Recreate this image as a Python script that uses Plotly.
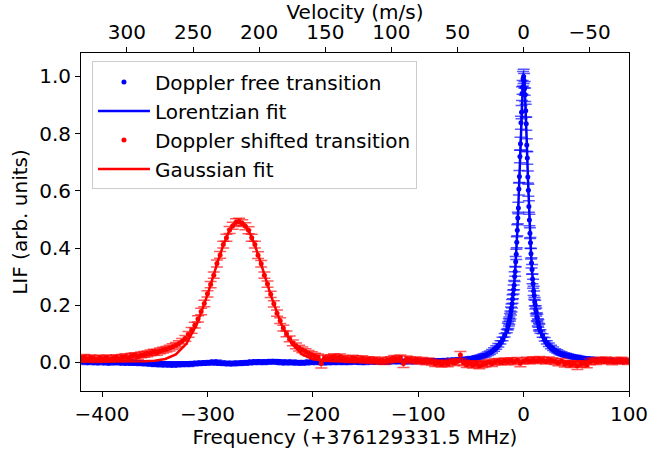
import plotly.graph_objects as go

# ---------------- data ----------------
F0_MHZ = 376129331.5          # frequency offset of the x axis (MHz)
C_LIGHT = 299792458.0         # m/s, used for the Velocity axis conversion

# Doppler free transition (blue), three scan segments
blue_left_start, blue_left_step = -420, 2      # -420 ... -16
blue_left_vals = [
    0.003, 0.001, 0.004, -0.001, 0.002, 0.005, 0.000, 0.003, -0.002, 0.002,   # -420
    0.004, 0.000, 0.002, -0.003, 0.001, 0.003, -0.001, 0.002, 0.000, -0.002,  # -400
    0.001, -0.003, 0.000, -0.002, 0.002, -0.004, -0.001, -0.003, 0.000, -0.005,  # -380
    -0.002, -0.004, -0.006, -0.003, -0.007, -0.005, -0.008, -0.006, -0.004, -0.009,  # -360
    -0.006, -0.008, -0.005, -0.010, -0.007, -0.009, -0.006, -0.008, -0.004, -0.007,  # -340
    -0.005, -0.008, -0.004, -0.006, -0.003, -0.005, -0.002, -0.004, -0.001, -0.003,  # -320
    0.000, -0.002, 0.001, -0.001, 0.002, -0.003, -0.001, -0.004, -0.002, -0.005,  # -300
    -0.003, -0.006, -0.004, -0.002, -0.005, -0.003, -0.001, -0.004, 0.000, -0.002,  # -280
    0.001, -0.001, 0.002, 0.000, 0.003, 0.001, -0.001, 0.002, 0.000, 0.003,   # -260
    0.001, 0.004, 0.002, 0.000, 0.003, 0.001, -0.002, 0.001, -0.001, 0.002,   # -240
    0.000, -0.002, 0.001, -0.001, -0.003, 0.000, -0.002, 0.001, -0.001, 0.002,  # -220
    0.000, 0.003, 0.001, -0.001, 0.002, 0.000, -0.002, 0.001, 0.003, 0.000,   # -200
    0.002, -0.001, 0.001, 0.003, 0.000, 0.002, -0.001, 0.001, 0.003, 0.001,   # -180
    0.002, 0.000, 0.003, 0.001, -0.001, 0.002, 0.004, 0.001, 0.003, 0.000,    # -160
    0.002, 0.004, 0.001, 0.003, 0.000, 0.002, 0.004, 0.001, 0.003, 0.005,     # -140
    0.002, 0.004, 0.001, 0.003, 0.005, 0.002, 0.004, 0.001, 0.003, 0.005,     # -120
    0.003, 0.005, 0.002, 0.004, 0.006, 0.003, 0.005, 0.007, 0.004, 0.006,     # -100
    0.005, 0.007, 0.004, 0.006, 0.008, 0.006, 0.008, 0.007, 0.009, 0.008,     # -80
    0.010, 0.009, 0.011, 0.012, 0.011, 0.013, 0.015, 0.014, 0.017, 0.019,     # -60
    0.021, 0.024, 0.026, 0.030, 0.034, 0.039, 0.045, 0.052, 0.060, 0.070,     # -40
    0.082, 0.095, 0.110,                                                      # -20
]
blue_peak_start, blue_peak_step = -15, 0.5     # -15 ... 15
blue_peak_vals = [
    0.125, 0.131, 0.140, 0.146, 0.158, 0.166, 0.180, 0.190, 0.205, 0.222,
    0.238, 0.255, 0.270, 0.300, 0.318, 0.352, 0.378, 0.420, 0.462, 0.505,
    0.540, 0.606, 0.650, 0.720, 0.765, 0.838, 0.875, 0.940, 0.962, 0.992,
    1.000,
    0.985, 0.958, 0.936, 0.880, 0.835, 0.760, 0.715, 0.648, 0.602, 0.545,
    0.498, 0.452, 0.418, 0.380, 0.348, 0.325, 0.292, 0.275, 0.250, 0.235,
    0.212, 0.202, 0.184, 0.176, 0.160, 0.155, 0.140, 0.136, 0.125, 0.121,
]
blue_peak_err = [
    0.012, 0.012, 0.013, 0.013, 0.013, 0.014, 0.014, 0.014, 0.015, 0.015,
    0.015, 0.016, 0.016, 0.017, 0.017, 0.018, 0.018, 0.019, 0.019, 0.020,
    0.020, 0.021, 0.021, 0.022, 0.022, 0.023, 0.023, 0.024, 0.024, 0.025,
    0.025,
    0.025, 0.024, 0.024, 0.023, 0.023, 0.022, 0.022, 0.021, 0.021, 0.020,
    0.020, 0.019, 0.019, 0.018, 0.018, 0.017, 0.017, 0.016, 0.016, 0.015,
    0.015, 0.015, 0.014, 0.014, 0.014, 0.013, 0.013, 0.013, 0.012, 0.012,
]
blue_right_start, blue_right_step = 16, 2      # 16 ... 100
blue_right_vals = [
    0.108, 0.094, 0.081, 0.070, 0.062, 0.054, 0.048, 0.042, 0.038, 0.034,    # 16
    0.031, 0.028, 0.026, 0.024, 0.022, 0.020, 0.019, 0.018, 0.016, 0.015,    # 36
    0.014, 0.013, 0.012, 0.012, 0.010, 0.011, 0.009, 0.010, 0.008, 0.009,    # 56
    0.007, 0.008, 0.006, 0.007, 0.005, 0.007, 0.004, 0.006, 0.005, 0.003,    # 76
    0.005, 0.003, 0.004,                                                     # 96
]
blue_base_err = 0.006

# Doppler shifted transition (red)
red_start, red_step = -420, 3                  # -420 ... 99
red_vals = [
    0.015, 0.018, 0.012, 0.016, 0.014, 0.010, 0.015, 0.012, 0.016, 0.011,    # -420
    0.014, 0.017, 0.013, 0.018, 0.020, 0.016, 0.022, 0.024, 0.021, 0.026,    # -390
    0.028, 0.030, 0.033, 0.036, 0.035, 0.040, 0.043, 0.046, 0.050, 0.055,    # -360
    0.060, 0.066, 0.074, 0.084, 0.098, 0.112, 0.130, 0.152, 0.178, 0.206,    # -330
    0.240, 0.272, 0.305, 0.346, 0.376, 0.412, 0.436, 0.463, 0.478, 0.490,    # -300
    0.492, 0.487, 0.476, 0.462, 0.436, 0.412, 0.375, 0.345, 0.305, 0.274,    # -270
    0.238, 0.205, 0.172, 0.146, 0.120, 0.100, 0.082, 0.068, 0.058, 0.050,    # -240
    0.044, 0.038, 0.032, 0.027, 0.022, 0.019, -0.004, 0.015, 0.014, 0.017,   # -210
    0.020, 0.016, 0.019, 0.014, 0.012, 0.010, 0.015, 0.012, 0.009, 0.013,    # -180
    0.008, 0.010, 0.006, 0.009, 0.004, 0.007, 0.003, 0.008, 0.010, 0.014,    # -150
    0.012, 0.016, -0.004, 0.012, 0.010, 0.006, 0.009, 0.004, 0.007, 0.002,   # -120
    0.005, 0.001, -0.004, -0.002, -0.006, -0.003, -0.005, 0.002, -0.001, 0.003,  # -90
    0.026, -0.002, -0.008, -0.004, -0.010, -0.006, -0.012, -0.008, -0.005, 0.001,  # -60
    -0.004, 0.002, 0.004, 0.001, 0.005, 0.003, 0.006, 0.002, 0.007, -0.003,  # -30
    0.004, 0.008, 0.005, 0.010, 0.006, 0.011, 0.008, 0.004, 0.009, 0.006,    # 0
    0.003, -0.002, 0.004, -0.006, -0.003, -0.008, -0.005, -0.012, -0.007, -0.004,  # 30
    -0.009, 0.002, 0.006, 0.003, 0.008, 0.005, 0.009, 0.006, 0.002, 0.007,  # 60
    0.004, 0.008, 0.005, 0.003,                                              # 90
]
red_err = [
    0.010, 0.010, 0.010, 0.010, 0.010, 0.010, 0.010, 0.010, 0.010, 0.010,
    0.010, 0.010, 0.010, 0.010, 0.010, 0.010, 0.010, 0.010, 0.010, 0.010,
    0.010, 0.010, 0.010, 0.010, 0.010, 0.010, 0.010, 0.010, 0.010, 0.010,
    0.010, 0.010, 0.010, 0.010, 0.010, 0.010, 0.010, 0.011, 0.011, 0.011,
    0.011, 0.011, 0.011, 0.012, 0.012, 0.012, 0.012, 0.012, 0.012, 0.012,
    0.012, 0.012, 0.012, 0.012, 0.012, 0.012, 0.012, 0.011, 0.011, 0.011,
    0.011, 0.011, 0.011, 0.010, 0.010, 0.010, 0.010, 0.010, 0.010, 0.010,
    0.010, 0.010, 0.010, 0.010, 0.010, 0.010, 0.016, 0.010, 0.010, 0.010,
    0.010, 0.010, 0.010, 0.010, 0.010, 0.010, 0.010, 0.010, 0.010, 0.010,
    0.010, 0.010, 0.010, 0.010, 0.010, 0.010, 0.010, 0.010, 0.010, 0.010,
    0.010, 0.010, 0.014, 0.010, 0.010, 0.010, 0.010, 0.010, 0.010, 0.010,
    0.010, 0.010, 0.010, 0.010, 0.010, 0.010, 0.010, 0.010, 0.010, 0.010,
    0.012, 0.010, 0.010, 0.010, 0.010, 0.010, 0.010, 0.010, 0.010, 0.010,
    0.010, 0.010, 0.010, 0.010, 0.010, 0.010, 0.010, 0.010, 0.010, 0.012,
    0.010, 0.010, 0.010, 0.010, 0.010, 0.010, 0.010, 0.010, 0.010, 0.010,
    0.010, 0.010, 0.010, 0.010, 0.010, 0.010, 0.010, 0.013, 0.010, 0.010,
    0.010, 0.010, 0.010, 0.010, 0.010, 0.010, 0.010, 0.010, 0.010, 0.010,
    0.010, 0.010, 0.010, 0.010,
]

lor_x = [-420, -300, -200, -150, -100, -80, -60, -50, -40, -35, -30, -26, -22, -19,
         -16, -14, -12, -10, -9, -8, -7, -6, -5, -4, -3, -2, -1.5, -1, -0.5, 0,
         0.5, 1, 1.5, 2, 3, 4, 5, 6, 7, 8, 9, 10, 12, 14, 16, 19, 22, 26, 30,
         35, 40, 50, 60, 80, 100]
lor_y = [0.000, 0.000, 0.001, 0.001, 0.003, 0.005, 0.008, 0.012, 0.019, 0.024,
         0.033, 0.043, 0.059, 0.077, 0.106, 0.134, 0.174, 0.232, 0.272, 0.321,
         0.382, 0.457, 0.548, 0.654, 0.771, 0.883, 0.931, 0.968, 0.992, 1.000,
         0.992, 0.968, 0.931, 0.883, 0.771, 0.654, 0.548, 0.457, 0.382, 0.321,
         0.272, 0.232, 0.174, 0.134, 0.106, 0.077, 0.059, 0.043, 0.033, 0.024,
         0.019, 0.012, 0.008, 0.005, 0.003]

gau_x = [-420, -380, -360, -350, -340, -330, -320, -310, -300, -290, -285, -280,
         -275, -270, -265, -260, -255, -250, -240, -230, -220, -210, -200, -190,
         -180, -150, -100, 0, 100]
gau_y = [0.003, 0.003, 0.004, 0.006, 0.012, 0.028, 0.065, 0.134, 0.236, 0.355,
         0.410, 0.454, 0.483, 0.493, 0.483, 0.454, 0.410, 0.355, 0.236, 0.134,
         0.065, 0.028, 0.012, 0.006, 0.004, 0.003, 0.003, 0.003, 0.003]

x_ticks = [-400, -300, -200, -100, 0, 100]
x_ticktext = ["\u2212400", "\u2212300", "\u2212200", "\u2212100", "0", "100"]
y_ticks = [0.0, 0.2, 0.4, 0.6, 0.8, 1.0]
v_ticks = [300, 250, 200, 150, 100, 50, 0, -50]
v_ticktext = ["300", "250", "200", "150", "100", "50", "0", "\u221250"]

X_RANGE = [-420, 100]
Y_RANGE = [-0.1, 1.082]

# ---------------- assemble ----------------
blue_x = ([blue_left_start + blue_left_step * i for i in range(len(blue_left_vals))]
          + [blue_peak_start + blue_peak_step * i for i in range(len(blue_peak_vals))]
          + [blue_right_start + blue_right_step * i for i in range(len(blue_right_vals))])
blue_y = blue_left_vals + blue_peak_vals + blue_right_vals
blue_err = ([blue_base_err] * len(blue_left_vals) + blue_peak_err
            + [blue_base_err] * len(blue_right_vals))
red_x = [red_start + red_step * i for i in range(len(red_vals))]

k = C_LIGHT / F0_MHZ   # m/s per MHz
v_range = [-X_RANGE[0] * k, -X_RANGE[1] * k]

BLUE = "#0000ff"
RED = "#ff0000"
FONT = "DejaVu Sans"

fig = go.Figure()
fig.add_trace(go.Scatter(
    x=blue_x, y=blue_y, mode="markers", name="Doppler free transition",
    marker=dict(color=BLUE, size=5),
    error_y=dict(type="data", array=blue_err, visible=True,
                 color="rgba(0,0,255,0.65)", thickness=1.5, width=6),
))
fig.add_trace(go.Scatter(
    x=lor_x, y=lor_y, mode="lines", name="Lorentzian fit",
    line=dict(color=BLUE, width=2.5),
))
fig.add_trace(go.Scatter(
    x=red_x, y=red_vals, mode="markers", name="Doppler shifted transition",
    marker=dict(color=RED, size=5),
    error_y=dict(type="data", array=red_err, visible=True,
                 color="rgba(255,0,0,0.65)", thickness=1.5, width=6),
))
fig.add_trace(go.Scatter(
    x=gau_x, y=gau_y, mode="lines", name="Gaussian fit",
    line=dict(color=RED, width=2.5),
))
# carrier for the top velocity axis
fig.add_trace(go.Scatter(
    x=v_range, y=[0, 0], xaxis="x2", mode="markers",
    marker=dict(opacity=0), showlegend=False, hoverinfo="skip",
))

axis_common = dict(
    showline=True, linecolor="black", linewidth=1,
    ticks="outside", ticklen=5, tickwidth=1, tickcolor="black",
    showgrid=False, zeroline=False, automargin=False,
    tickfont=dict(family=FONT, size=20, color="black"),
)

fig.update_layout(
    template="none",
    width=668, height=449,
    margin=dict(l=81, r=39, t=53, b=58, pad=0),
    paper_bgcolor="white", plot_bgcolor="white",
    font=dict(family=FONT, size=20, color="black"),
    xaxis=dict(
        range=X_RANGE, tickvals=x_ticks, ticktext=x_ticktext, mirror=True,
        title=dict(text="Frequency (+376129331.5 MHz)", standoff=2,
                   font=dict(family=FONT, size=20, color="black")),
        **axis_common,
    ),
    xaxis2=dict(
        range=v_range, overlaying="x", side="top", anchor="y",
        tickvals=v_ticks, ticktext=v_ticktext,
        title=dict(text="Velocity (m/s)", standoff=2,
                   font=dict(family=FONT, size=20, color="black")),
        **axis_common,
    ),
    yaxis=dict(
        range=Y_RANGE, tickvals=y_ticks, tickformat=".1f", mirror=True,
        title=dict(text="LIF (arb. units)", standoff=6,
                   font=dict(family=FONT, size=20, color="black")),
        **axis_common,
    ),
    legend=dict(
        x=0.02, y=0.975, xanchor="left", yanchor="top",
        bgcolor="rgba(255,255,255,0.8)", bordercolor="#cccccc", borderwidth=1,
        font=dict(family=FONT, size=20, color="black"),
        itemwidth=52,
    ),
    showlegend=True,
)

fig.write_html(
    "out.html",
    config={"displayModeBar": False},
    post_script="document.body.style.margin='0px';document.body.style.overflow='hidden';",
)
